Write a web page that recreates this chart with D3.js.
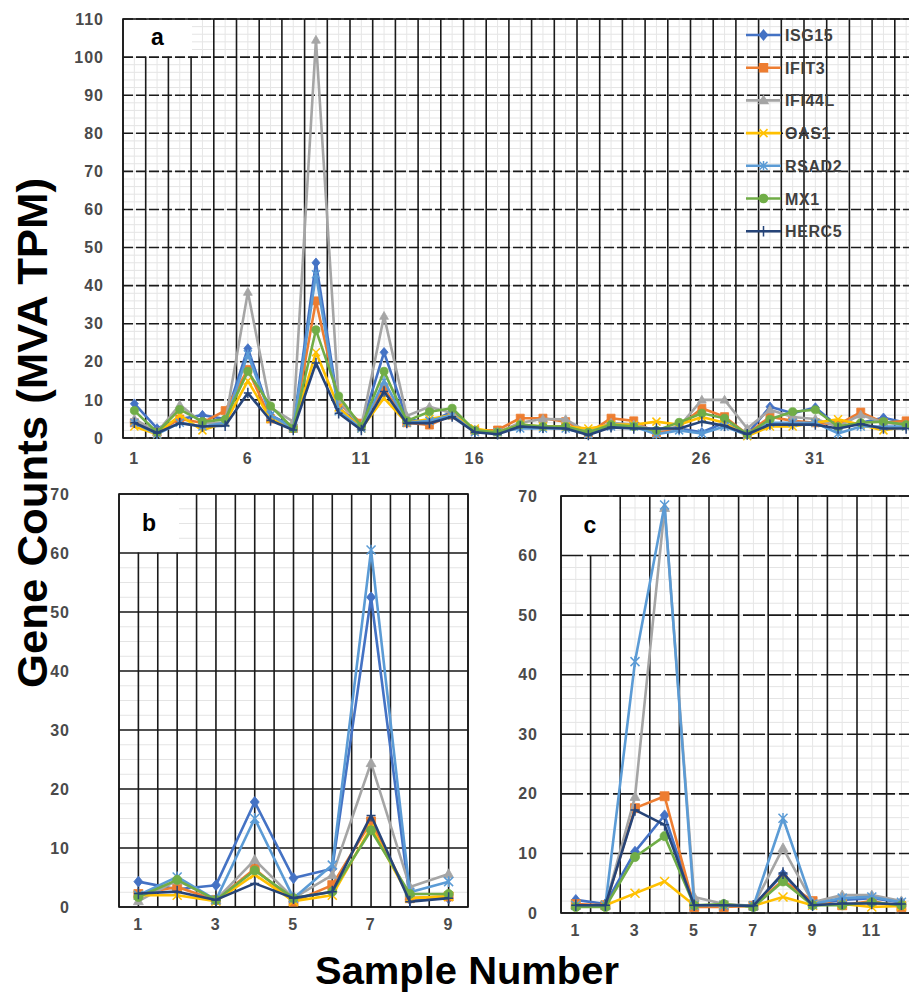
<!DOCTYPE html>
<html><head><meta charset="utf-8">
<script src="https://cdn.jsdelivr.net/npm/d3@7"></script>
<style>body{margin:0;background:#fff}svg{display:block}</style>
</head><body>
<svg id="chart" width="909" height="992"></svg>
<script>
// ---------- DATA ----------
const genes = ["ISG15","IFIT3","IFI44L","OAS1","RSAD2","MX1","HERC5"];
const geneColors = ["#4472C4","#ED7D31","#A5A5A5","#FFC000","#5B9BD5","#70AD47","#264478"];
const geneMarkers = ["diamond","square","triangle","x","star","circle","plus"];

const samplesA = [1,2,3,4,5,6,7,8,9,10,11,12,13,14,15,16,17,18,19,20,21,22,23,24,25,26,27,28,29,30,31,32,33,34,35];
const ticksA_x = [1,6,11,16,21,26,31];
const ticksA_y = [0,10,20,30,40,50,60,70,80,90,100,110];
const a_ISG15  = [9,2.5,5,6,5,23.5,6,3,46,8,3,22.5,5,4,7,2,1.5,3,3,3,1,3,3,2,2.5,1.5,4,1,8.2,6.5,8,3,4,5.3,4];
const a_IFIT3  = [4,1.5,5,4,7.2,18,5,2.5,36,9.2,3.9,13,4,3.4,6,2,2.1,5.2,5.2,4.3,1.2,5.2,4.5,1.2,3,7.8,5.6,1,5.6,4.5,4,3.5,6.8,4,4.5];
const a_IFI44L = [5,1.5,8.7,4,4,38.3,8,4.3,104.5,10,3,32,5.8,8.2,6.5,2,1.5,4,5,4.9,1.5,4,3.5,2,3,10,10,2.5,7.4,5.5,5,3,6.1,4,3.5];
const a_OAS1   = [3,1,6,2,4,15,5,2.5,22.5,8,2.5,10.5,4,5,6,2.5,1.5,3.5,3,3,2.5,3.5,3.5,4.3,3.5,5.5,4,0.5,3,3,4,4.9,3.5,2,3];
const a_RSAD2  = [4,1,4,3,4,22,6,2.5,43,7,2.5,15,4,4.5,6,1.5,1.5,2.5,2.5,2.5,1,3,3,1,2,1.2,3,0.8,4,4,4,1.2,3,3,3];
const a_MX1    = [7.2,1.5,7.5,4.3,4.9,17.5,8.4,2.5,28.4,11,3,17.5,4.5,6.9,7.8,2,1.5,3.5,3,3,1.5,3.5,3,2,4.1,6.5,5.2,1,4.9,6.9,7.4,3,4,4.3,3.5];
const a_HERC5  = [4,1.3,3.9,3,3.2,11.8,4.6,2.1,19.7,6.5,2.1,12.2,3.9,3.9,5.6,1.5,1,3,2.7,2.5,0.8,2.8,2.5,2.5,2.5,4.3,3.2,1,3.5,3.5,3.5,2.5,3.7,2.5,2.5];

const samplesB = [1,2,3,4,5,6,7,8,9];
const ticksB_x = [1,3,5,7,9];
const ticksB_y = [0,10,20,30,40,50,60,70];
const b_ISG15  = [4.3,3,3.7,17.8,4.9,6.5,52.5,1.3,1.5];
const b_IFIT3  = [2.2,3.4,1.2,6.5,0.9,3.7,14.5,1.5,1.8];
const b_IFI44L = [1,4.5,1.2,8,1.5,5.4,24.4,3.4,5.6];
const b_OAS1   = [2,2,1,5.5,1,2,13.5,1.5,1.8];
const b_RSAD2  = [2,5.1,1.2,15,1.5,7.1,60.5,2.5,4.3];
const b_MX1    = [1.7,4.6,1.2,6.2,1.5,2.6,13,2.2,2.2];
const b_HERC5  = [2.3,2.6,1.2,4,1.5,2.6,15.5,0.9,1.5];

const samplesC = [1,2,3,4,5,6,7,8,9,10,11,12];
const ticksC_x = [1,3,5,7,9,11];
const ticksC_y = [0,10,20,30,40,50,60,70];
const c_ISG15  = [2.2,1.5,10.3,16.4,1.3,1.3,1.2,6.5,1.5,2.2,2.5,1.8];
const c_IFIT3  = [1.5,1.3,17.6,19.6,1,1,1.2,5.5,2,1.3,2,1];
const c_IFI44L = [1.3,1.3,19.5,68,2.7,1.5,1.2,10.9,1.8,3,3,2];
const c_OAS1   = [1.3,1.3,3.3,5.3,1.3,1.3,1.2,2.7,1.3,1.5,1,1.2];
const c_RSAD2  = [1.3,1.3,42.2,68.5,1.3,1.3,1.2,15.9,1.5,2.5,2.7,1.8];
const c_MX1    = [1,1,9.4,12.9,1.3,1.5,1,5.3,1.3,1.3,1.8,1.3];
const c_HERC5  = [1.3,1.3,17.3,14.8,1.3,1.3,1.2,6.7,1.3,1.6,1.6,1.5];

// ---------- DRAWING ----------
const svg = d3.select("#chart");
const FONT = "'Liberation Sans', Arial, sans-serif";

function markerPath(type, s) {
  const h = s / 2;
  switch (type) {
    case "diamond": return `M0,${-h*1.2}L${h},0L0,${h*1.2}L${-h},0Z`;
    case "square": return `M${-h},${-h}H${h}V${h}H${-h}Z`;
    case "triangle": return `M0,${-h*1.15}L${h*1.1},${h*0.8}L${-h*1.1},${h*0.8}Z`;
    case "circle": return d3.symbol(d3.symbolCircle, s*s*0.8)();
    case "x": return `M${-h},${-h}L${h},${h}M${-h},${h}L${h},${-h}`;
    case "star": return `M${-h},${-h}L${h},${h}M${-h},${h}L${h},${-h}M0,${-h*1.2}V${h*1.2}`;
    case "plus": return `M${-h},0H${h}M0,${-h*1.3}V${h*1.3}`;
  }
}
const filledMarker = t => ["diamond","square","triangle","circle"].includes(t);

function panel(cfg) {
  const g = svg.append("g");
  const x = d3.scaleBand().domain(cfg.samples).range([cfg.left, cfg.right]).padding(0);
  const y = d3.scaleLinear().domain([0, cfg.ymax]).range([cfg.bottom, cfg.top]);
  const bw = x.bandwidth();
  const cx = s => x(s) + bw / 2;
  const boxRight = cfg.left + cfg.boxW;
  const boxBottom = y(cfg.yticks[cfg.yticks.length - 2]);

  // minor horizontal gridlines
  const minorY = d3.range(0, cfg.ymax + 0.001, cfg.minorStep);
  g.append("g").selectAll("line").data(minorY).join("line")
    .attr("x1", cfg.left).attr("x2", cfg.right)
    .attr("y1", d => y(d)).attr("y2", d => y(d))
    .attr("stroke", "#e4e4e4").attr("stroke-width", 1);
  // minor vertical gridlines
  const minorX = [];
  cfg.samples.forEach(s => { for (let k = 1; k < cfg.minorVDiv; k++) minorX.push(x(s) + bw * k / cfg.minorVDiv); });
  g.append("g").selectAll("line").data(minorX).join("line")
    .attr("x1", d => d).attr("x2", d => d)
    .attr("y1", cfg.top).attr("y2", cfg.bottom)
    .attr("stroke", "#e6e6e6").attr("stroke-width", 1);

  // major vertical gridlines
  const majorX = [];
  cfg.samples.forEach(s => { majorX.push(x(s)); if (cfg.centerLines) majorX.push(cx(s)); });
  majorX.push(x(cfg.samples[cfg.samples.length - 1]) + bw);
  g.append("g").selectAll("line").data(majorX).join("line")
    .attr("x1", d => d).attr("x2", d => d)
    .attr("y1", cfg.top).attr("y2", cfg.bottom)
    .attr("stroke", "#1a1a1a").attr("stroke-width", 1.6);

  // label box (white) covering top-left corner
  g.append("rect").attr("x", cfg.left + 1).attr("y", cfg.top + 1)
    .attr("width", cfg.boxW - 1)
    .attr("height", boxBottom - cfg.top - 1.5)
    .attr("fill", "#fff");

  // major horizontal gridlines
  g.append("g").selectAll("line").data(cfg.yticks).join("line")
    .attr("x1", cfg.left).attr("x2", cfg.right)
    .attr("y1", d => y(d)).attr("y2", d => y(d))
    .attr("stroke", "#1a1a1a").attr("stroke-width", 1.6)
    .attr("stroke-dasharray", cfg.dash || null);

  // plot border
  g.append("rect").attr("x", cfg.left).attr("y", cfg.top)
    .attr("width", cfg.right - cfg.left).attr("height", cfg.bottom - cfg.top)
    .attr("fill", "none").attr("stroke", "#1a1a1a").attr("stroke-width", 1.6);

  // panel letter
  g.append("text").attr("x", (cfg.left + boxRight) / 2).attr("y", (cfg.top + boxBottom) / 2 + 7)
    .attr("text-anchor", "middle").attr("font-family", FONT).attr("font-weight", "bold")
    .attr("font-size", 23).attr("fill", "#000").text(cfg.letter);

  // y axis
  const ya = g.append("g").attr("transform", `translate(${cfg.yLabelX},0)`)
    .call(d3.axisLeft(y).tickValues(cfg.yticks).tickSize(0).tickPadding(0));
  ya.select(".domain").remove();
  ya.selectAll("text").attr("font-family", FONT).attr("font-weight", "bold")
    .attr("font-size", 16).attr("fill", "#4a4a4a").attr("letter-spacing", 1);

  // x axis
  const xa = g.append("g").attr("transform", `translate(0,${cfg.xLabelY})`)
    .call(d3.axisBottom(x).tickValues(cfg.xticks).tickSize(0).tickPadding(0));
  xa.select(".domain").remove();
  xa.selectAll("text").attr("font-family", FONT).attr("font-weight", "bold")
    .attr("font-size", 16).attr("fill", "#4a4a4a").attr("letter-spacing", 1.5);

  // series
  const line = d3.line().x(d => cx(d.s)).y(d => y(d.v));
  cfg.series.forEach((vals, i) => {
    const pts = cfg.samples.map((s, j) => ({ s, v: vals[j] }));
    const sg = g.append("g");
    sg.append("path").datum(pts).attr("d", line)
      .attr("fill", "none").attr("stroke", geneColors[i]).attr("stroke-width", 2.6)
      .attr("stroke-linejoin", "round");
    const m = geneMarkers[i];
    sg.selectAll("path.m").data(pts).join("path").attr("class", "m")
      .attr("transform", d => `translate(${cx(d.s)},${y(d.v)})`)
      .attr("d", markerPath(m, cfg.msize))
      .attr("fill", filledMarker(m) ? geneColors[i] : "none")
      .attr("stroke", geneColors[i]).attr("stroke-width", filledMarker(m) ? 0.8 : 1.5);
  });
  return { x, y };
}

panel({
  samples: samplesA, left: 123, right: 123 + 35 * 22.7, top: 19, bottom: 438, ymax: 110,
  yticks: ticksA_y, xticks: ticksA_x, minorStep: 2, minorVDiv: 2, centerLines: false,
  dash: "10,3", boxW: 69, letter: "a", yLabelX: 104, xLabelY: 453, msize: 8,
  series: [a_ISG15, a_IFIT3, a_IFI44L, a_OAS1, a_RSAD2, a_MX1, a_HERC5]
});
panel({
  samples: samplesB, left: 119, right: 468, top: 494, bottom: 907, ymax: 70,
  yticks: ticksB_y, xticks: ticksB_x, minorStep: 2.5, minorVDiv: 2, centerLines: true,
  dash: null, boxW: 60, letter: "b", yLabelX: 70, xLabelY: 919, msize: 9,
  series: [b_ISG15, b_IFIT3, b_IFI44L, b_OAS1, b_RSAD2, b_MX1, b_HERC5]
});
panel({
  samples: samplesC, left: 561, right: 561 + 12 * 29.6, top: 496, bottom: 913, ymax: 70,
  yticks: ticksC_y, xticks: ticksC_x, minorStep: 2, minorVDiv: 2, centerLines: false,
  dash: "22,4", boxW: 58, letter: "c", yLabelX: 538, xLabelY: 925, msize: 9,
  series: [c_ISG15, c_IFIT3, c_IFI44L, c_OAS1, c_RSAD2, c_MX1, c_HERC5]
});

// legend (panel a)
const lg = svg.append("g");
genes.forEach((gname, i) => {
  const yy = 35 + i * 32.7;
  const row = lg.append("g").attr("transform", `translate(746,${yy})`);
  row.append("line").attr("x1", 0).attr("x2", 35).attr("y1", 0).attr("y2", 0)
    .attr("stroke", geneColors[i]).attr("stroke-width", 2.6);
  row.append("path").attr("transform", "translate(17.5,0)")
    .attr("d", markerPath(geneMarkers[i], 8))
    .attr("fill", filledMarker(geneMarkers[i]) ? geneColors[i] : "none")
    .attr("stroke", geneColors[i]).attr("stroke-width", 1.5);
  row.append("text").attr("x", 39).attr("y", 6).attr("font-family", FONT)
    .attr("font-weight", "bold").attr("font-size", 16).attr("fill", "#404040")
    .attr("letter-spacing", 0.6).text(gname);
});

// axis titles
svg.append("text").attr("transform", "translate(47,433) rotate(-90)")
  .attr("text-anchor", "middle").attr("font-family", FONT).attr("font-weight", "bold")
  .attr("font-size", 42).attr("fill", "#000")
  .attr("textLength", 510).attr("lengthAdjust", "spacingAndGlyphs")
  .text("Gene Counts (MVA TPM)");
svg.append("text").attr("x", 467).attr("y", 984)
  .attr("text-anchor", "middle").attr("font-family", FONT).attr("font-weight", "bold")
  .attr("font-size", 39).attr("fill", "#000")
  .attr("textLength", 304).attr("lengthAdjust", "spacingAndGlyphs")
  .text("Sample Number");
</script>
</body></html>
